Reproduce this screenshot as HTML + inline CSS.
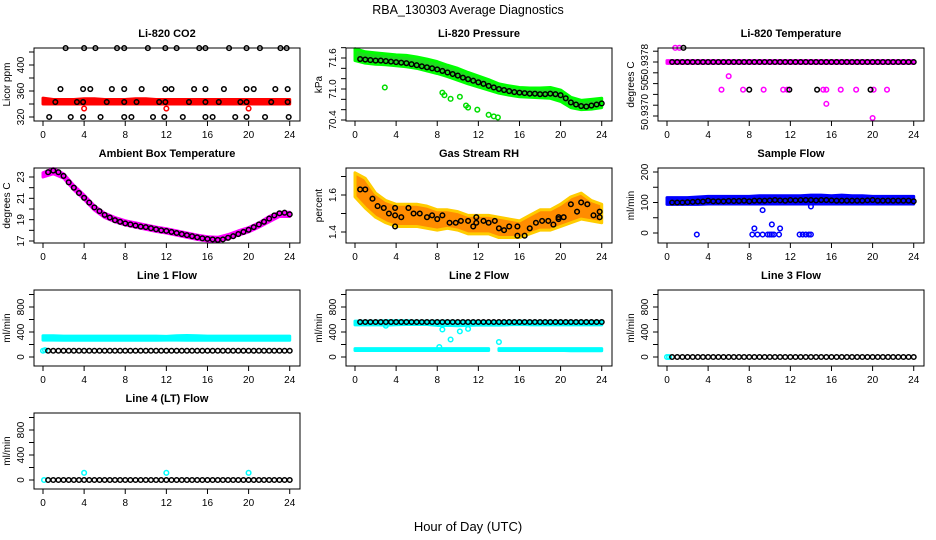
<!DOCTYPE html>
<html><head><meta charset="utf-8">
<style>
body{margin:0;background:#fff}
svg{display:block;font-family:"Liberation Sans",sans-serif}
</style></head>
<body>
<svg id="c" width="936" height="540" viewBox="0 0 936 540">
<text x="468" y="14" text-anchor="middle" font-size="12.5">RBA_130303  Average Diagnostics</text>
<text x="468" y="531" text-anchor="middle" font-size="13">Hour of Day (UTC)</text>
</svg>
<script>
// ---- data ----
const HALF=[0.5,1,1.5,2,2.5,3,3.5,4,4.5,5,5.5,6,6.5,7,7.5,8,8.5,9,9.5,10,10.5,11,11.5,12,12.5,13,13.5,14,14.5,15,15.5,16,16.5,17,17.5,18,18.5,19,19.5,20,20.5,21,21.5,22,22.5,23,23.5,24];
const HOURS=[0,1,2,3,4,5,6,7,8,9,10,11,12,13,14,15,16,17,18,19,20,21,22,23,24];
const XTICKS=[0,4,8,12,16,20,24];

// CO2
const co2T=[2.2,4.0,5.1,7.2,7.9,10.2,11.9,13.0,15.2,15.8,18.1,19.8,21.1,23.1,23.7, 1.7,3.9,4.6,6.7,7.9,9.6,11.9,12.5,14.7,15.8,17.6,19.8,20.5,22.6,23.8, 1.2,3.3,3.9,6.2,7.9,9.1,11.3,11.9,14.2,15.8,17.1,19.2,19.8,22.2,23.8, 0.6,2.7,3.9,5.6,7.9,8.6,10.7,11.8,13.6,15.8,16.5,18.7,19.8,21.6,23.9];
const co2V=[426,426,426,426,426,426,426,426,426,426,426,426,426,426,426, 363,363,363,363,363,363,363,363,363,363,363,363,363,363,363, 343,343,343,343,343,343,343,343,343,343,343,343,343,343,343, 320,320,320,320,320,320,320,320,320,320,320,320,320,320,320];
const co2Lo=[340,340,340,340,340,340,340,340,340,340,340,340,340,340,340,340,340,340,340,340,340,340,340,340,340];
const co2Hi=[349,347,347,347,348,348,347,347,347,348,348,347,347,347,347,347,347,347,347,347,347,347,347,347,347];
const co2OutT=[4,12,20];
const co2OutV=[333,333,333];

// Pressure
const presBlack=[71.58,71.57,71.56,71.55,71.55,71.54,71.53,71.52,71.51,71.5,71.48,71.46,71.44,71.42,71.4,71.38,71.35,71.32,71.29,71.26,71.22,71.19,71.16,71.13,71.1,71.06,71.03,71.0,70.98,70.96,70.94,70.93,70.92,70.91,70.91,70.9,70.9,70.91,70.9,70.88,70.82,70.74,70.7,70.67,70.66,70.68,70.7,70.72];
const presLo=[71.55,71.5,71.48,71.47,71.45,71.43,71.4,71.35,71.3,71.24,71.17,71.1,71.04,70.98,70.92,70.88,70.85,70.84,70.83,70.82,70.76,70.64,70.6,70.61,70.64];
const presHi=[71.78,71.72,71.7,71.68,71.66,71.65,71.62,71.58,71.53,71.46,71.4,71.32,71.25,71.18,71.1,71.06,71.03,71.02,71.02,71.03,70.98,70.84,70.78,70.8,70.82];
const presOutT=[2.9,8.5,8.7,9.3,10.2,10.8,11.0,11.9,13.0,13.5,13.9];
const presOutV=[71.03,70.93,70.88,70.81,70.85,70.68,70.64,70.6,70.5,70.47,70.45];

// Li-820 temperature
const tempBlackT=[1.6,8.0,11.9,14.6,19.8];
const tempBlackV=[50.93801,50.93739,50.93739,50.93739,50.93739];
const tempMain=50.9378;
const tempOutT=[0.8,1.2,5.3,6.0,7.4,9.4,11.3,11.7,15.2,15.5,15.5,16.9,18.4,20.0,20.1,21.4];
const tempOutV=[50.93801,50.93801,50.93739,50.93759,50.93739,50.93739,50.93739,50.93739,50.93739,50.93739,50.93718,50.93739,50.93739,50.93697,50.93739,50.93739];

// Ambient
const ambBlack=[23.45,23.6,23.45,23.1,22.5,22.0,21.5,21.05,20.6,20.15,19.8,19.45,19.2,18.95,18.8,18.65,18.55,18.45,18.35,18.3,18.2,18.1,18.0,17.95,17.85,17.75,17.65,17.55,17.45,17.35,17.25,17.2,17.15,17.1,17.15,17.3,17.45,17.65,17.85,18.05,18.3,18.55,18.8,19.1,19.4,19.6,19.65,19.5];
const ambLo=[23.0,23.3,22.9,21.8,20.9,19.9,19.2,18.8,18.5,18.3,18.1,17.9,17.75,17.55,17.35,17.15,17.0,16.95,17.2,17.55,17.85,18.3,18.8,19.3,19.3];
const ambHi=[23.4,23.8,23.3,22.2,21.3,20.3,19.6,19.2,18.9,18.7,18.5,18.3,18.15,17.95,17.75,17.55,17.4,17.35,17.6,17.95,18.25,18.7,19.3,19.7,19.7];

// Gas stream RH
const rhT=[0.5,1,1.7,2.2,2.8,3.3,3.9,3.9,3.9,4.5,5.2,5.7,6.3,7,7.5,8,8.5,9.2,9.8,10.3,11,11.5,11.8,11.8,12.5,13,13.6,14,14.5,15,15.8,15.8,16.5,17,17.6,18.2,18.8,19.3,19.8,19.8,20.3,21,21.6,22,22.6,23.2,23.8,23.8];
const rhV=[1.63,1.63,1.58,1.54,1.53,1.5,1.53,1.49,1.43,1.48,1.53,1.5,1.5,1.48,1.49,1.47,1.49,1.45,1.45,1.46,1.46,1.43,1.48,1.45,1.46,1.45,1.46,1.42,1.41,1.43,1.43,1.38,1.38,1.42,1.45,1.46,1.46,1.44,1.48,1.47,1.48,1.55,1.51,1.56,1.55,1.49,1.48,1.51];
const rhLo=[1.59,1.53,1.48,1.45,1.43,1.43,1.43,1.42,1.41,1.42,1.41,1.39,1.39,1.39,1.37,1.37,1.37,1.39,1.41,1.41,1.43,1.45,1.47,1.46,1.45];
const rhHi=[1.72,1.69,1.61,1.57,1.55,1.55,1.55,1.54,1.52,1.52,1.51,1.49,1.49,1.49,1.48,1.47,1.46,1.49,1.52,1.52,1.55,1.59,1.61,1.57,1.55];

// Sample flow
const sfBlack=[100,100,100,101,102,103,103,106,104,104,104,105,105,105,106,104,106,106,106,107,108,107,106,108,107,108,108,108,107,108,108,107,106,106,106,106,106,106,107,108,106,106,106,106,106,106,106,104];
const sfLo=[94,94,94,94,95,95,95,95,95,95,95,95,95,95,95,95,95,95,95,95,95,95,95,95,95];
const sfHi=[116,116,116,118,120,120,120,120,120,122,122,122,122,122,124,124,122,124,122,122,120,120,120,120,120];
const sfOutT=[2.9,8.3,8.5,8.8,9.3,9.3,9.8,10.0,10.2,10.4,10.2,10.9,11.0,12.9,13.2,13.5,13.8,14.0,14.0];
const sfOutV=[-5,-5,15,-5,75,-5,-5,-5,28,-5,-5,-5,15,-5,-5,-5,-5,-5,87];

// Line 1
const l1Black=HALF.map(()=>100);
const l1Lo=[270,270,268,268,268,268,268,268,268,268,268,268,270,270,268,268,268,268,268,268,268,268,268,268,268];
const l1Hi=[340,340,335,335,335,335,335,335,335,335,335,335,330,340,345,340,335,335,335,335,335,335,335,335,335];
const l1OutT=[0,0.2];
const l1OutV=[100,110];

// Line 2
const l2Black=HALF.map(()=>560);
const l2TopLo=[515,515,515,510,515,520,520,520,505,505,500,505,510,510,510,515,520,515,515,515,515,515,515,515,515];
const l2TopHi=[575,575,575,580,580,580,575,575,575,575,570,570,570,565,565,570,575,570,570,570,570,570,570,570,570];
const l2LowT=[0,1,2,3,4,5,6,7,8,9,10,11,12,13];
const l2LowLo=[105,105,105,105,105,105,105,105,105,105,105,105,105,105];
const l2LowHi=[135,135,135,135,135,135,135,135,135,135,135,135,135,135];
const l2Low2T=[14,15,16,17,18,19,20,21,22,23,24];
const l2Low2Lo=[105,105,105,105,105,105,105,100,100,100,100];
const l2Low2Hi=[135,135,135,135,135,135,135,135,135,135,135];
const l2OutT=[3.0,8.2,8.5,9.3,10.2,11.0,14.0];
const l2OutV=[500,160,440,280,410,450,240];

// Line 3 / Line 4
const l3Black=HALF.map(()=>0);
const l4Black=HALF.map(()=>0);
const l4OutT=[0.1,4,12,20];
const l4OutV=[0,115,115,115];

// ---- drawing ----
const svg=document.getElementById('c');
const NS='http://www.w3.org/2000/svg';
const COLL=[34,346,658], COLX0=[43,355,667], XS=10.28;
const ROWT=[48,168,290,413], ROWB=[121,243,366,489];
function mk(tag,attrs,parent){const e=document.createElementNS(NS,tag);for(const k in attrs)e.setAttribute(k,attrs[k]);(parent||svg).appendChild(e);return e;}

function panel(o){
  const g=mk('g',{});
  
  
  const L=COLL[o.col],R=L+266,T=ROWT[o.row],B=ROWB[o.row];
  const x=h=>COLX0[o.col]+h*XS;
  const k=(o.p2[1]-o.p1[1])/(o.p2[0]-o.p1[0]);
  const y=v=>o.p1[1]+(v-o.p1[0])*k;
  const plot=mk('g',{},g);
  
  
  (o.bands||[]).forEach(b=>{
    let pts=b.t.map((t,i)=>x(t)+','+y(b.hi[i])).concat(b.t.map((t,i)=>x(t)+','+y(b.lo[i])).reverse());
    const p=mk('polygon',{points:pts.join(' '),fill:b.fill,stroke:b.stroke||b.fill,'stroke-width':3,'stroke-linejoin':'round'},plot);
    
    
  });
  (o.pts||[]).forEach(s=>{
    s.t.forEach((t,i)=>{
      const c=mk('circle',{cx:x(t),cy:y(s.v[i]),r:2.3,fill:'none',stroke:s.c,'stroke-width':1.5},plot);
      
      
    });
  });
  const box=mk('rect',{x:L,y:T,width:R-L,height:B-T,fill:'none',stroke:'#000','stroke-width':1},g);
  
  
  mk('line',{x1:x(0),x2:x(24),y1:B,y2:B,stroke:'#000'},g);
  XTICKS.forEach(t=>{
    mk('line',{x1:x(t),x2:x(t),y1:B,y2:B+5,stroke:'#000'},g);
    const tx=mk('text',{x:x(t),y:B+17,'text-anchor':'middle','font-size':10},g);
    tx.textContent=t;
    
    
  });
  o.yt.forEach(v=>mk('line',{x1:L,x2:L-5,y1:y(v),y2:y(v),stroke:'#000'},g));
  mk('line',{x1:L,x2:L,y1:y(o.yt[0]),y2:y(o.yt[o.yt.length-1]),stroke:'#000'},g);
  o.yl.forEach((v,i)=>{
    const yy=y(v)+(o.ylOff?o.ylOff[i]:0);
    const tx=mk('text',{x:L-10,y:yy,'text-anchor':'middle','font-size':10,transform:`rotate(-90 ${L-10} ${yy})`},g);
    tx.textContent=o.ylt?o.ylt[i]:v;
    
    
  });
  const yc=(T+B)/2;
  const yl=mk('text',{x:L-24,y:yc,'text-anchor':'middle','font-size':10,transform:`rotate(-90 ${L-24} ${yc})`},g);
  yl.textContent=o.ylab;
  
  
  const ti=mk('text',{x:(L+R)/2,y:T-11,'text-anchor':'middle','font-size':11,'font-weight':'bold'},g);
  ti.textContent=o.title;
  
  
}

panel({name:'co2-panel',col:0,row:0,title:'Li-820 CO2',ylab:'Licor ppm',p1:[320,117],p2:[400,65],
  yt:[320,340,360,380,400,420],yl:[320,360,400],
  bands:[{t:HOURS,lo:co2Lo,hi:co2Hi,fill:'#ff0000'}],
  pts:[{t:co2OutT,v:co2OutV,c:'#ff0000'},{t:co2T,v:co2V,c:'#000'}]});
panel({name:'pressure-panel',col:1,row:0,title:'Li-820 Pressure',ylab:'kPa',p1:[70.4,120],p2:[71.6,58],
  yt:[70.4,70.6,70.8,71.0,71.2,71.4,71.6,71.8],yl:[70.4,71.0,71.6],ylt:['70.4','71.0','71.6'],
  bands:[{t:HOURS,lo:presLo,hi:presHi,fill:'#1fdd1f',stroke:'#00ff00'}],
  pts:[{t:presOutT,v:presOutV,c:'#00dd00'},{t:HALF,v:presBlack,c:'#000'}]});
panel({name:'li820-temperature-panel',col:2,row:0,title:'Li-820 Temperature',ylab:'degrees C',p1:[50.9378,62],p2:[50.9370,116],
  yt:[50.93796,50.9378,50.93764,50.93748,50.93732,50.93716,50.937],yl:[50.9378,50.93748,50.937],ylt:['50.9378','50.','50.9370'],ylOff:[0,0,-4],
  bands:[{t:HOURS,lo:HOURS.map(()=>tempMain-0.00002),hi:HOURS.map(()=>tempMain+0.00002),fill:'#ff00ff'}],
  pts:[{t:tempOutT,v:tempOutV,c:'#ff00ff'},{t:HALF,v:HALF.map(()=>tempMain),c:'#000'},{t:tempBlackT,v:tempBlackV,c:'#000'}]});
panel({name:'ambient-panel',col:0,row:1,title:'Ambient Box Temperature',ylab:'degrees C',p1:[17,241],p2:[23,177],
  yt:[17,18,19,20,21,22,23],yl:[17,19,21,23],
  bands:[{t:HOURS,lo:ambLo,hi:ambHi,fill:'#ff00ff'}],
  pts:[{t:HALF,v:ambBlack,c:'#000'}]});
panel({name:'rh-panel',col:1,row:1,title:'Gas Stream RH',ylab:'percent',p1:[1.4,232],p2:[1.6,195],
  yt:[1.4,1.5,1.6,1.7],yl:[1.4,1.6],ylt:['1.4','1.6'],
  bands:[{t:HOURS,lo:rhLo,hi:rhHi,fill:'#ff8c00',stroke:'#ffcc00'}],
  pts:[{t:rhT,v:rhV,c:'#000'}]});
panel({name:'sample-flow-panel',col:2,row:1,title:'Sample Flow',ylab:'ml/min',p1:[0,233],p2:[200,172],
  yt:[0,50,100,150,200],yl:[0,100,200],
  bands:[{t:HOURS,lo:sfLo,hi:sfHi,fill:'#0000ff'}],
  pts:[{t:sfOutT,v:sfOutV,c:'#0000ff'},{t:HALF,v:sfBlack,c:'#000'}]});
panel({name:'line1-flow-panel',col:0,row:2,title:'Line 1 Flow',ylab:'ml/min',p1:[0,357],p2:[800,307],
  yt:[0,200,400,600,800,1000],yl:[0,400,800],
  bands:[{t:HOURS,lo:l1Lo,hi:l1Hi,fill:'#00ffff'}],
  pts:[{t:l1OutT,v:l1OutV,c:'#00ffff'},{t:HALF,v:l1Black,c:'#000'}]});
panel({name:'line2-flow-panel',col:1,row:2,title:'Line 2 Flow',ylab:'ml/min',p1:[0,357],p2:[800,307],
  yt:[0,200,400,600,800,1000],yl:[0,400,800],
  bands:[{t:HOURS,lo:l2TopLo,hi:l2TopHi,fill:'#00ffff'},{t:l2LowT,lo:l2LowLo,hi:l2LowHi,fill:'#00ffff'},{t:l2Low2T,lo:l2Low2Lo,hi:l2Low2Hi,fill:'#00ffff'}],
  pts:[{t:l2OutT,v:l2OutV,c:'#00ffff'},{t:HALF,v:l2Black,c:'#000'}]});
panel({name:'line3-flow-panel',col:2,row:2,title:'Line 3 Flow',ylab:'ml/min',p1:[0,357],p2:[800,307],
  yt:[0,200,400,600,800,1000],yl:[0,400,800],
  pts:[{t:[0,0.2],v:[0,0],c:'#00ffff'},{t:HALF,v:l3Black,c:'#000'}]});
panel({name:'line4-flow-panel',col:0,row:3,title:'Line 4 (LT) Flow',ylab:'ml/min',p1:[0,480],p2:[800,430],
  yt:[0,200,400,600,800,1000],yl:[0,400,800],
  pts:[{t:l4OutT,v:l4OutV,c:'#00ffff'},{t:HALF,v:l4Black,c:'#000'}]});
</script>
</body></html>
